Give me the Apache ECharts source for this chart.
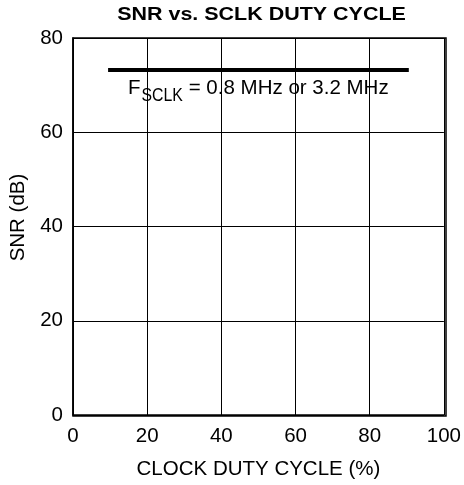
<!DOCTYPE html>
<html>
<head>
<meta charset="utf-8">
<script src="https://cdn.jsdelivr.net/npm/echarts@6/dist/echarts.min.js"></script>
<style>
  html, body { margin: 0; padding: 0; background: #fff; }
  #chart { width: 464px; height: 485px; }
</style>
</head>
<body>
<div id="chart"></div>
<script>
// SNR measured across SCLK duty cycle (same curve at 0.8 MHz and 3.2 MHz)
const dutyCycle = [10, 20, 30, 40, 50, 60, 70, 80, 90];
const snrDb = [73.2, 73.2, 73.2, 73.2, 73.2, 73.2, 73.2, 73.2, 73.2];
const xTicks = [0, 20, 40, 60, 80, 100];
const yTicks = [0, 20, 40, 60, 80];

const font = 'Liberation Sans, Arial, Helvetica, sans-serif';
const chart = echarts.init(document.getElementById('chart'));

const gridBox = { left: 73, right: 18, top: 38, bottom: 69 };

chart.setOption({
  animation: false,
  grid: Object.assign({ containLabel: false }, gridBox),
  xAxis: {
    type: 'value', min: xTicks[0], max: xTicks[xTicks.length - 1], interval: 20,
    name: 'CLOCK DUTY CYCLE (%)', nameLocation: 'middle', nameGap: 44,
    nameTextStyle: { fontFamily: font, fontSize: 20.5, color: '#000' },
    axisLine: { show: true, lineStyle: { color: '#000', width: 1.5 } },
    axisTick: { show: false },
    axisLabel: { fontFamily: font, fontSize: 20.5, color: '#000', margin: 11 },
    splitLine: { show: true, lineStyle: { color: '#000', width: 1 } }
  },
  yAxis: {
    type: 'value', min: yTicks[0], max: yTicks[yTicks.length - 1], interval: 20,
    name: 'SNR (dB)', nameLocation: 'middle', nameGap: 43, nameRotate: 90,
    nameTextStyle: { fontFamily: font, fontSize: 20.5, color: '#000', padding: [0, 0, 0, 18] },
    axisLine: { show: true, lineStyle: { color: '#000', width: 1.5 } },
    axisTick: { show: false },
    axisLabel: { fontFamily: font, fontSize: 20.5, color: '#000', margin: 10 },
    splitLine: { show: true, lineStyle: { color: '#000', width: 1 } }
  },
  graphic: [
    {
      // chart title (wide bold face)
      type: 'text', x: 261.5, y: 15, originX: 0, originY: 0, scaleX: 1.13, z: 10,
      style: {
        text: 'SNR vs. SCLK DUTY CYCLE',
        fontFamily: font, fontWeight: 'bold', fontSize: 19, fill: '#000',
        align: 'center', verticalAlign: 'middle'
      }
    },
    {
      type: 'rect', shape: { x: 73, y: 38, width: 373, height: 378 },
      style: { fill: 'none', stroke: '#000', lineWidth: 1.5 }, silent: true, z: 10
    },
    // frequency note: F with subscript SCLK
    {
      type: 'text', x: 128, y: 88.3, z: 10,
      style: { text: 'F', fontFamily: font, fontSize: 20.5, fill: '#000', align: 'left', verticalAlign: 'middle' }
    },
    {
      type: 'text', x: 141.5, y: 95.7, originX: 0, originY: 0, scaleX: 0.88, z: 10,
      style: { text: 'SCLK', fontFamily: font, fontSize: 18, fill: '#000', align: 'left', verticalAlign: 'middle' }
    },
    {
      type: 'text', x: 183, y: 88.3, z: 10,
      style: { text: ' = 0.8 MHz or 3.2 MHz', fontFamily: font, fontSize: 20.5, fill: '#000', align: 'left', verticalAlign: 'middle' }
    }
  ],
  series: [{
    type: 'line',
    data: dutyCycle.map((d, i) => [d, snrDb[i]]),
    showSymbol: false,
    lineStyle: { color: '#000', width: 4, cap: 'square' },
    z: 5
  }]
});
</script>
</body>
</html>
